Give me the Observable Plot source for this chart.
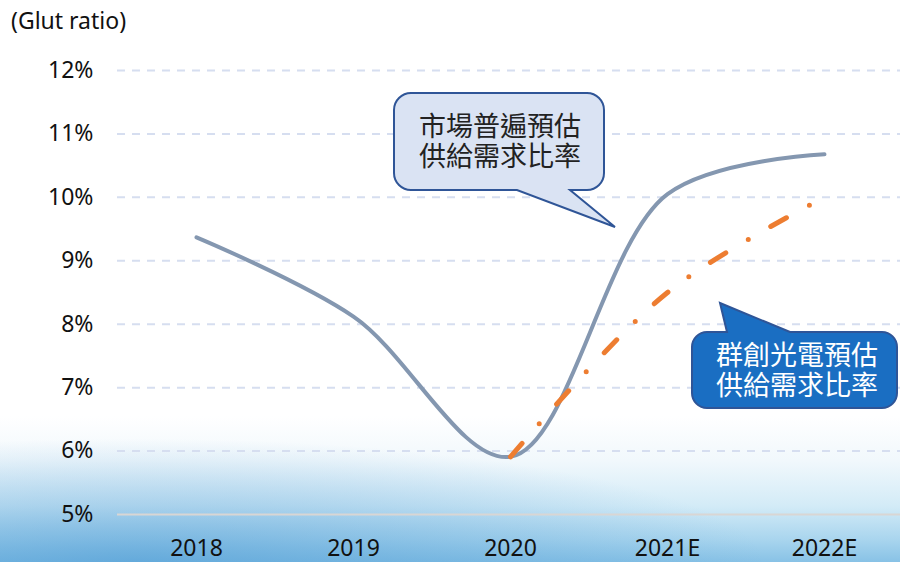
<!DOCTYPE html>
<html>
<head>
<meta charset="utf-8">
<script src="https://cdn.jsdelivr.net/npm/d3@7"></script>
<script src="https://cdn.jsdelivr.net/npm/@observablehq/plot@0.6"></script>
<style>
  html, body { margin: 0; padding: 0; width: 900px; height: 562px; overflow: hidden; }
  body {
    position: relative;
    font-family: "Noto Sans", "Open Sans", sans-serif;
    background:
      radial-gradient(ellipse 70% 22% at 15% 100%, rgba(70,150,210,0.55), rgba(70,150,210,0) 100%),
      linear-gradient(to bottom, #ffffff 0%, #ffffff 74%, #f1f8fc 82%, #d3ebf7 90%, #a9d5ee 96%, #88c2e6 100%);
  }
  #title { position: absolute; left: 11px; top: 4px; font-size: 23px; color: #111; }
  #chart { position: absolute; left: 0; top: 0; }
  #callouts { position: absolute; left: 0; top: 0; }
  .cbox {
    position: absolute; font-family: "Noto Sans CJK TC", "Noto Sans CJK SC", sans-serif;
    font-size: 27px; line-height: 30px; width: 200px; text-align: center; white-space: pre;
  }
</style>
</head>
<body>
<div id="chart"></div>
<div id="title">(Glut ratio)</div>
<svg id="callouts" width="900" height="562"></svg>
<script>
// ---- data ----
const years = ["2018", "2019", "2020", "2021E", "2022E"];
const marketRatio = [9.37, 8.12, 5.91, 10.05, 10.68];       // 市場普遍預估
const innoluxYears = ["2020", "2021E", "2022E"];
const innoluxRatio = [5.91, 8.5, 10.0];                      // 群創光電預估
const yTicks = [5, 6, 7, 8, 9, 10, 11, 12];
const calloutMarket = ["市場普遍預估", "供給需求比率"];
const calloutInnolux = ["群創光電預估", "供給需求比率"];

const market = years.map((y, i) => ({year: y, value: marketRatio[i]}));
const innolux = innoluxYears.map((y, i) => ({year: y, value: innoluxRatio[i]}));

const chart = Plot.plot({
  width: 900,
  height: 562,
  marginTop: 70,
  marginBottom: 48,
  marginLeft: 117,
  marginRight: 0,
  style: {fontFamily: "'Noto Sans', 'Open Sans', sans-serif", fontSize: "23px", color: "#111", background: "transparent", overflow: "visible"},
  x: {type: "point", domain: years, range: [195, 825], padding: 0, label: null},
  y: {domain: [5, 12], label: null},
  marks: [
    Plot.gridY(yTicks.filter(d => d > 5), {stroke: "#d6def0", strokeOpacity: 1, strokeWidth: 2, strokeDasharray: "8,7"}),
    Plot.ruleY([5], {stroke: "#d9d6d4", strokeWidth: 2}),
    Plot.axisY({ticks: yTicks, tickFormat: d => d + "%", tickSize: 0, tickPadding: 24, fontSize: 23, label: null}),
    Plot.axisX({tickSize: 0, tickPadding: 25, fontSize: 23, label: null}),
    Plot.line(market, {x: "year", y: "value", stroke: "#8497b0", strokeWidth: 4, curve: "catmull-rom"}),
    Plot.line(innolux, {x: "year", y: "value", stroke: "#ed7d31", strokeWidth: 5, strokeLinecap: "round", strokeDasharray: "18,26,0,26", curve: "catmull-rom"})
  ]
});
document.getElementById("chart").appendChild(chart);

// ---- callouts (annotations) ----
const svg = d3.select("#callouts");
function roundedBubble(x0, y0, x1, y1, r, p) {
  const path = d3.path();
  path.moveTo(x0 + r, y0);
  if (p.side === "top") { path.lineTo(p.a, y0); path.lineTo(p.tx, p.ty); path.lineTo(p.b, y0); }
  path.lineTo(x1 - r, y0);
  path.arcTo(x1, y0, x1, y0 + r, r);
  path.lineTo(x1, y1 - r);
  path.arcTo(x1, y1, x1 - r, y1, r);
  if (p.side === "bottom") { path.lineTo(p.b, y1); path.lineTo(p.tx, p.ty); path.lineTo(p.a, y1); }
  path.lineTo(x0 + r, y1);
  path.arcTo(x0, y1, x0, y1 - r, r);
  path.lineTo(x0, y0 + r);
  path.arcTo(x0, y0, x0 + r, y0, r);
  path.closePath();
  return path.toString();
}
function bubbleText(lines, cx, top, color) {
  const div = document.createElement("div");
  div.className = "cbox";
  div.style.left = (cx - 100) + "px";
  div.style.top = top + "px";
  div.style.color = color;
  div.textContent = lines.join("\n");
  document.body.appendChild(div);
}
svg.append("path")
  .attr("d", roundedBubble(394, 93, 604, 190, 17, {side: "bottom", a: 517, b: 570, tx: 615, ty: 227}))
  .attr("fill", "#dae3f3").attr("stroke", "#2f5597").attr("stroke-width", 2);
bubbleText(calloutMarket, 500, 110, "#222");

svg.append("path")
  .attr("d", roundedBubble(692, 332, 897, 408, 15, {side: "top", a: 727, b: 790, tx: 720, ty: 303}))
  .attr("fill", "#1a6ec2").attr("stroke", "#2f5597").attr("stroke-width", 2);
bubbleText(calloutInnolux, 797, 339, "#ffffff");
</script>
</body>
</html>
